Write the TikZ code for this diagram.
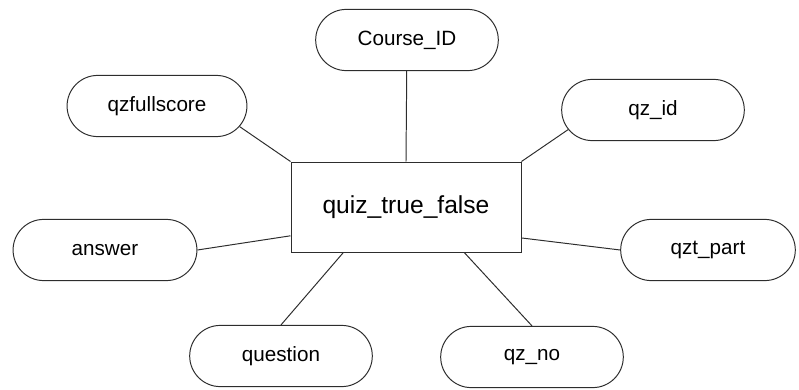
\documentclass[tikz,border=0pt]{standalone}
\usepackage{fontspec}
\setmainfont{Liberation Sans}
\usepackage{tikz}
\usetikzlibrary{shapes.misc,positioning}
\definecolor{er_line}{RGB}{45, 45, 45}

\begin{document}
\begin{tikzpicture}[
  font=\fontsize{14.7}{17}\selectfont,
  attr/.style={rounded rectangle,minimum width=4.8cm,minimum height=1.53cm,
               text centered,draw=er_line,line width=0.7pt},
  entity/.style={rectangle,minimum width=5.75cm,minimum height=2.25cm,
                 text centered,draw=er_line,line width=0.7pt,
                 font=\fontsize{17.5}{20}\selectfont},
  link/.style={draw=er_line,line width=0.7pt}
]
\useasboundingbox (-10.15,-4.55) rectangle (9.825,5.175);
\node[entity] (quiz) at (0,0) {quiz\_true\_false};
\node[attr] (cid) at (0.025,4.175) {Course\_ID};
\node[attr,minimum width=4.73cm] (qfs) at (-6.225,2.525) {qzfullscore};
\node[attr] (qid) at (6.175,2.425) {qz\_id};
\node[attr,minimum width=4.83cm] (ans) at (-7.525,-1.075) {answer};
\node[attr,minimum width=4.6cm] (qtp) at (7.55,-1.075) {qzt\_part};
\node[attr] (qst) at (-3.125,-3.725) {question};
\node[attr] (qno) at (3.15,-3.75) {qz\_no};
\draw[link] (quiz.north) -- (cid);
\draw[link] (quiz.north west) -- (qfs.-14);
\draw[link] (quiz.north east) -- (qid.193);
\draw[link] (quiz.194) -- (ans.east);
\draw[link] (quiz.345) -- (qtp.west);
\draw[link] (quiz.216) -- (qst.north);
\draw[link] (quiz.322) -- (qno.north);
\end{tikzpicture}
\end{document}
